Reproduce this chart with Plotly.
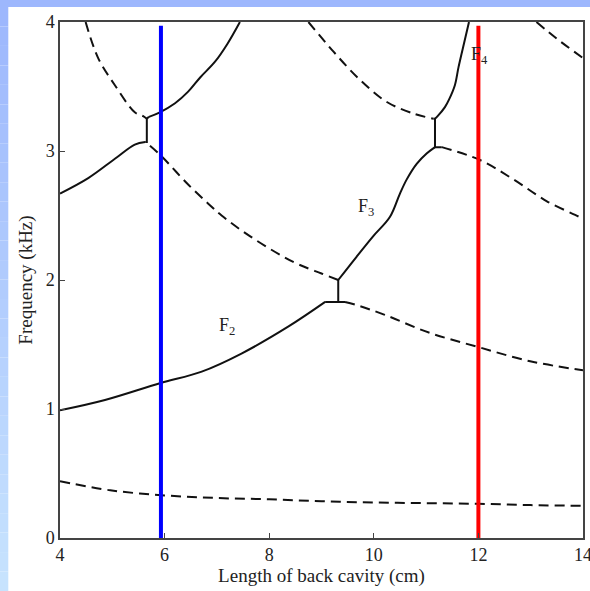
import plotly.graph_objects as go

# ---------------- data ----------------
f1_x = [4.0, 4.96, 6.0, 7.0, 8.0, 9.0, 10.0, 11.0, 12.0, 13.0, 14.0]
f1_y = [0.44, 0.37, 0.33, 0.31, 0.30, 0.285, 0.275, 0.27, 0.265, 0.255, 0.25]

sa_lo_x = [4.0, 4.54, 5.05, 5.43, 5.63]
sa_lo_y = [2.67, 2.79, 2.94, 3.05, 3.07]
sa_hi_x = [5.70, 5.91, 6.2, 6.45, 6.68, 6.96, 7.2, 7.44]
sa_hi_y = [3.265, 3.30, 3.37, 3.46, 3.57, 3.69, 3.83, 4.0]
j1_x = [5.63, 5.66, 5.66, 5.70]
j1_y = [3.07, 3.07, 3.25, 3.265]

db_x = [4.49, 4.73, 5.05, 5.43, 5.59, 5.66]
db_y = [4.0, 3.72, 3.51, 3.30, 3.27, 3.25]

dc_x = [5.72, 5.94, 6.45, 6.84, 7.09, 7.63, 8.46, 9.0, 9.32]
dc_y = [3.04, 2.96, 2.74, 2.59, 2.50, 2.34, 2.14, 2.05, 2.0]

f2_x = [4.0, 4.86, 5.91, 6.71, 7.47, 8.37, 9.07]
f2_y = [0.99, 1.07, 1.20, 1.29, 1.43, 1.64, 1.83]
j2_x = [9.07, 9.45, 9.32, 9.32]
j2_y = [1.83, 1.83, 1.83, 2.0]
f3_x = [9.32, 9.67, 9.99, 10.31, 10.50, 10.63, 10.82, 11.01, 11.17]
f3_y = [2.0, 2.18, 2.34, 2.49, 2.67, 2.78, 2.90, 2.98, 3.03]
j3_x = [11.30, 11.17, 11.17, 11.14]
j3_y = [3.03, 3.03, 3.25, 3.25]
f4_x = [11.17, 11.22, 11.36, 11.44, 11.55, 11.62, 11.74, 11.82]
f4_y = [3.25, 3.27, 3.34, 3.40, 3.51, 3.65, 3.86, 4.0]

dd_x = [9.45, 9.64, 10.21, 11.07, 12.0, 12.99, 14.0]
dd_y = [1.83, 1.81, 1.73, 1.59, 1.48, 1.37, 1.30]

de_x = [8.75, 9.23, 9.74, 10.25, 10.76, 11.14]
de_y = [4.0, 3.77, 3.55, 3.38, 3.29, 3.25]

df_x = [11.30, 12.03, 12.67, 13.31, 13.97, 14.0]
df_y = [3.03, 2.93, 2.78, 2.61, 2.48, 2.47]

dg_x = [13.11, 13.5, 14.0]
dg_y = [4.0, 3.87, 3.72]

blue_x = [5.93, 5.93]
blue_y = [0.0, 3.97]
red_x = [12.0, 12.0]
red_y = [0.0, 3.97]

labels = ["F<sub>2</sub>", "F<sub>3</sub>", "F<sub>4</sub>"]
label_x = [7.19, 9.86, 12.03]
label_y = [1.64, 2.56, 3.74]

x_ticks = [4, 6, 8, 10, 12, 14]
y_ticks = [0, 1, 2, 3, 4]

# ---------------- figure ----------------
fig = go.Figure()
solid = dict(color="#111111", width=2)
dashed = dict(color="#111111", width=2, dash="10px,6px")

curves = [
    (f1_x, f1_y, dashed, "spline"), (sa_lo_x, sa_lo_y, solid, "spline"),
    (sa_hi_x, sa_hi_y, solid, "spline"), (j1_x, j1_y, solid, "linear"),
    (db_x, db_y, dashed, "spline"), (dc_x, dc_y, dashed, "spline"),
    (f2_x, f2_y, solid, "spline"), (j2_x, j2_y, solid, "linear"),
    (f3_x, f3_y, solid, "spline"), (j3_x, j3_y, solid, "linear"),
    (f4_x, f4_y, solid, "spline"), (dd_x, dd_y, dashed, "spline"),
    (de_x, de_y, dashed, "spline"), (df_x, df_y, dashed, "spline"),
    (dg_x, dg_y, dashed, "spline"),
]
for xs, ys, ln, shp in curves:
    fig.add_trace(go.Scatter(x=xs, y=ys, mode="lines", line=dict(ln, shape=shp),
                             hoverinfo="skip", showlegend=False))

fig.add_trace(go.Scatter(x=blue_x, y=blue_y, mode="lines",
                         line=dict(color="#0000ff", width=4), showlegend=False))
fig.add_trace(go.Scatter(x=red_x, y=red_y, mode="lines",
                         line=dict(color="#ff0000", width=4), showlegend=False))

for t, lx, ly in zip(labels, label_x, label_y):
    fig.add_annotation(x=lx, y=ly, text=t, showarrow=False,
                       font=dict(family="Liberation Serif", size=18, color="#222"))

L, R, T, B = 60, 7, 22, 53
W, H = 590, 591
pw, ph = W - L - R, H - T - B
def px(x): return (x - L) / pw
def py(y): return (H - B - y) / ph

shapes = []
shapes.append(dict(type="rect", xref="paper", yref="paper",
                   x0=px(0), x1=px(W), y0=py(7), y1=py(0),
                   fillcolor="#9db7fd", line=dict(width=0), layer="below"))
n = 30
c0 = (157, 183, 253)
c1 = (200, 228, 255)
for i in range(n):
    y0p = 7 + (H - 7) * i / n
    y1p = 7 + (H - 7) * (i + 1) / n
    f = (i + 0.5) / n
    c = tuple(int(c0[k] + (c1[k] - c0[k]) * f) for k in range(3))
    shapes.append(dict(type="rect", xref="paper", yref="paper",
                       x0=px(0), x1=px(8.3), y0=py(y1p), y1=py(y0p),
                       fillcolor="rgb(%d,%d,%d)" % c, line=dict(width=0), layer="below"))

tick_font = dict(family="Liberation Serif", size=18, color="#222")
title_font = dict(family="Liberation Serif", size=19, color="#222")
fig.update_layout(
    width=W, height=H, autosize=False,
    margin=dict(l=L, r=R, t=T, b=B),
    paper_bgcolor="white", plot_bgcolor="white",
    shapes=shapes,
    xaxis=dict(range=[4, 14], tickvals=x_ticks, ticks="inside", ticklen=5,
               tickcolor="#444", showline=True, mirror=True, linecolor="#444",
               linewidth=1.5, showgrid=False, zeroline=False, automargin=False,
               ticklabeloverflow="allow",
               tickfont=tick_font,
               title=dict(text="Length of back cavity (cm)", font=title_font, standoff=2)),
    yaxis=dict(range=[0, 4], tickvals=y_ticks, ticks="inside", ticklen=5,
               tickcolor="#444", showline=True, mirror=True, linecolor="#444",
               linewidth=1.5, showgrid=False, zeroline=False, automargin=False,
               ticklabeloverflow="allow",
               tickfont=tick_font,
               title=dict(text="Frequency (kHz)", font=title_font, standoff=8)),
)

fix_margin = "document.body.style.margin='0';document.body.style.overflow='hidden';"
fig.write_html("out.html", config={"responsive": False}, post_script=fix_margin)
